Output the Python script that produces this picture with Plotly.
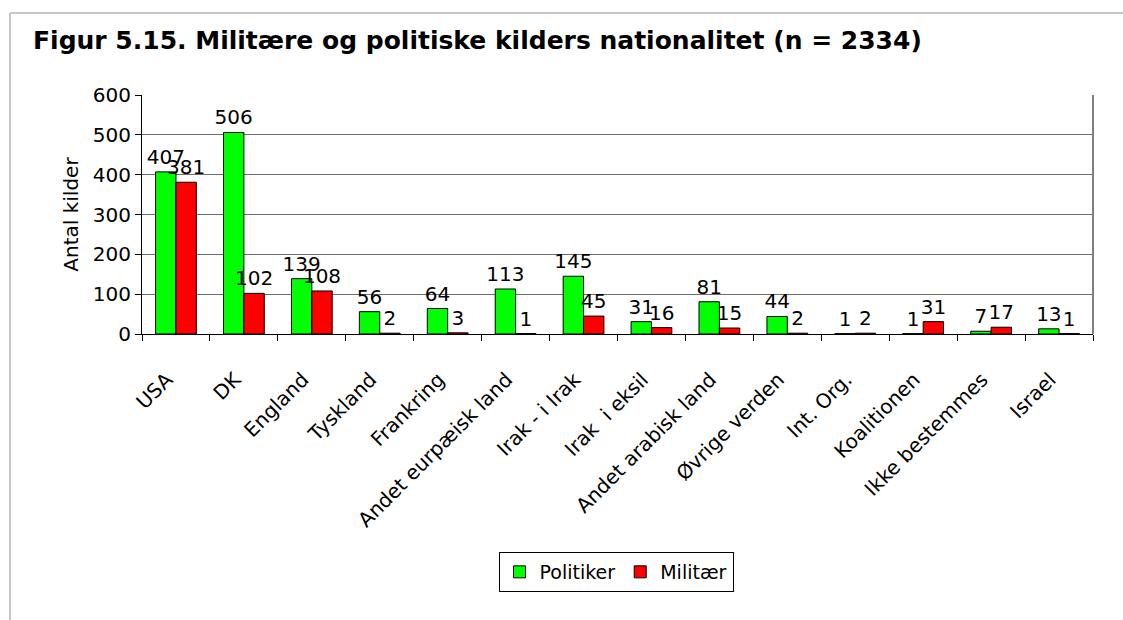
import plotly.graph_objects as go

categories = ["USA", "DK", "England", "Tyskland", "Frankring", "Andet eurpæisk land",
              "Irak - i Irak", "Irak  i eksil", "Andet arabisk land", "Øvrige verden",
              "Int. Org.", "Koalitionen", "Ikke bestemmes", "Israel"]
politiker = [407, 506, 139, 56, 64, 113, 145, 31, 81, 44, 1, 1, 7, 13]
militaer = [381, 102, 108, 2, 3, 1, 45, 16, 15, 2, 2, 31, 17, 1]
y_ticks = [0, 100, 200, 300, 400, 500, 600]

FONT = "DejaVu Sans, Verdana, sans-serif"
W, H = 1123, 620
L, R, T, B = 142, 30, 95, 286
pw, ph = W - L - R, H - T - B

def px(x):
    return (x - L) / pw

def py(y):
    return (H - B - y) / ph

fig = go.Figure()
fig.add_trace(go.Bar(name="Politiker", x=categories, y=politiker, text=politiker,
                     textposition="outside", constraintext="none", cliponaxis=False,
                     marker=dict(color="#00FF00", line=dict(color="black", width=1)),
                     textfont=dict(size=20, color="black", family=FONT)))
fig.add_trace(go.Bar(name="Militær", x=categories, y=militaer, text=militaer,
                     textposition="outside", constraintext="none", cliponaxis=False,
                     marker=dict(color="#FF0000", line=dict(color="black", width=1)),
                     textfont=dict(size=20, color="black", family=FONT)))

fig.update_layout(
    width=W, height=H,
    margin=dict(l=L, r=R, t=T, b=B),
    paper_bgcolor="white", plot_bgcolor="white",
    barmode="group", bargap=0.4, bargroupgap=0,
    font=dict(family=FONT, size=20, color="black"),
    showlegend=True,
    legend=dict(orientation="h", x=px(616), y=py(572), xanchor="center", yanchor="middle",
                bordercolor="black", borderwidth=1, font=dict(size=19),
                itemwidth=30, tracegroupgap=0),
    annotations=[dict(text="<b>Figur 5.15. Militære og politiske kilders nationalitet (n = 2334)</b>",
                      xref="paper", yref="paper", x=px(31), y=py(41), xanchor="left",
                      yanchor="middle", showarrow=False, font=dict(size=25, family=FONT))],
    shapes=[
        dict(type="line", xref="paper", yref="paper", x0=px(10), x1=px(1123), y0=py(13), y1=py(13),
             line=dict(color="#C8C8C8", width=2)),
        dict(type="line", xref="paper", yref="paper", x0=px(10), x1=px(10), y0=py(13), y1=py(620),
             line=dict(color="#C8C8C8", width=2)),
        dict(type="line", xref="paper", yref="paper", x0=1, x1=1, y0=0, y1=1,
             line=dict(color="#808080", width=2)),
    ],
)
fig.update_xaxes(showline=True, linecolor="black", linewidth=1, ticks="outside",
                 tickson="boundaries", ticklen=6, tickcolor="black", tickangle=-45,
                 tickvals=categories, ticktext=[c + "\u00a0\u00a0" for c in categories],
                 ticklabelstandoff=16, tickfont=dict(size=20), showgrid=False)
fig.update_yaxes(range=[0, 600], tickvals=y_ticks, showline=True, linecolor="black",
                 linewidth=1, ticks="outside", ticklen=6, tickcolor="black",
                 showgrid=True, gridcolor="#6E6E6E", gridwidth=1, zeroline=False,
                 title=dict(text="Antal kilder", font=dict(size=20), standoff=8),
                 tickfont=dict(size=20))

fig.write_html("out.html", config={"displayModeBar": False},
               post_script="document.body.style.margin='0';")
